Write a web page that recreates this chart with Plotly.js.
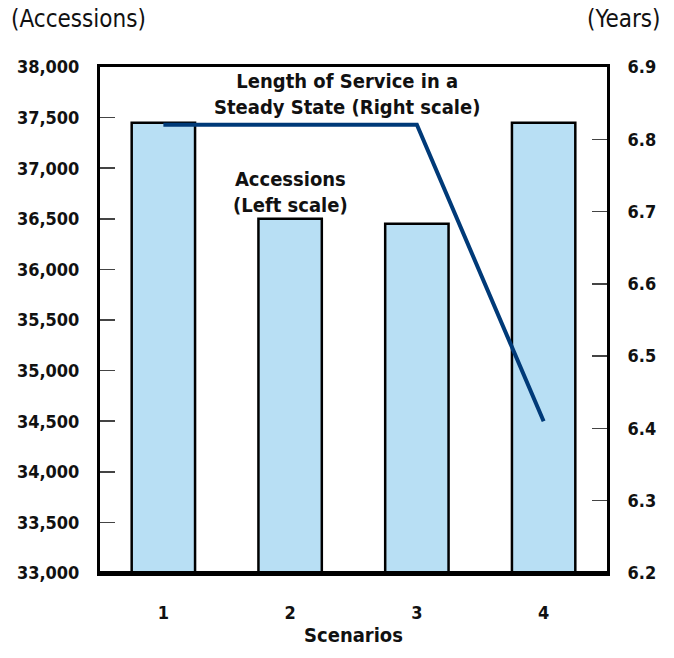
<!DOCTYPE html>
<html>
<head>
<meta charset="utf-8">
<script src="https://cdn.plot.ly/plotly-3.0.1.min.js"></script>
<style>body{margin:0;padding:0;background:#fff}#chart{width:674px;height:658px}</style>
</head>
<body>
<div id="chart"></div>
<script>
const scenarios = [1, 2, 3, 4];
const accessions = [37450, 36500, 36450, 37450];
const lengthOfService = [6.82, 6.82, 6.82, 6.41];
const leftTicks = [33000, 33500, 34000, 34500, 35000, 35500, 36000, 36500, 37000, 37500, 38000];
const rightTicks = [6.2, 6.3, 6.4, 6.5, 6.6, 6.7, 6.8, 6.9];

const FONT = '"DejaVu Sans Condensed", "DejaVu Sans", sans-serif';

const traces = [
  {
    type: 'bar', x: scenarios, y: accessions.map(v => v - 33000), base: 33000,
    width: 0.5,
    marker: {color: '#b8dff4', line: {color: '#000', width: 2.5}},
    hoverinfo: 'skip', yaxis: 'y'
  },
  {
    type: 'scatter', mode: 'lines', x: scenarios, y: lengthOfService,
    line: {color: '#003a78', width: 4}, yaxis: 'y2', hoverinfo: 'skip'
  }
];

const layout = {
  width: 674, height: 658,
  margin: {l: 100, r: 67, t: 67, b: 85},
  paper_bgcolor: '#fff', plot_bgcolor: '#fff',
  showlegend: false,
  font: {family: FONT, color: '#111', size: 18},
  xaxis: {
    range: [0.5, 4.5], tickvals: scenarios, ticktext: scenarios.map(String),
    showgrid: false, zeroline: false, ticks: '', ticklen: 0,
    showline: true, linecolor: '#000', linewidth: 3, mirror: true,
    tickfont: {family: FONT, size: 18, color: '#111', weight: 'bold'},
    ticklabelstandoff: 21,
    title: {text: '<b>Scenarios</b>', font: {family: FONT, size: 20, color: '#111'}, standoff: 7}
  },
  yaxis: {
    range: [33000, 38000], tickvals: leftTicks,
    ticktext: leftTicks.map(v => v.toLocaleString('en-US')),
    showgrid: false, zeroline: false,
    ticks: 'inside', ticklen: 15, tickwidth: 1.5, tickcolor: '#444',
    showline: true, linecolor: '#000', linewidth: 3,
    tickfont: {family: FONT, size: 18, color: '#111', weight: 'bold'},
    ticklabelstandoff: 14
  },
  yaxis2: {
    range: [6.2, 6.9], tickvals: rightTicks, ticktext: rightTicks.map(v => v.toFixed(1)),
    overlaying: 'y', side: 'right',
    showgrid: false, zeroline: false,
    ticks: 'inside', ticklen: 15, tickwidth: 1.5, tickcolor: '#444',
    showline: true, linecolor: '#000', linewidth: 3,
    tickfont: {family: FONT, size: 18, color: '#111', weight: 'bold'},
    ticklabelstandoff: 14
  },
  shapes: [
    {type: 'line', xref: 'paper', yref: 'paper', x0: 0, x1: 1, y0: 0, y1: 0,
     line: {color: '#000', width: 4}}
  ],
  annotations: [
    {text: '(Accessions)', xref: 'paper', yref: 'paper', x: -0.18, y: 1.063, xanchor: 'left', yanchor: 'bottom',
     showarrow: false, font: {family: FONT, size: 24, color: '#111'}},
    {text: '(Years)', xref: 'paper', yref: 'paper', x: 1.11, y: 1.063, xanchor: 'right', yanchor: 'bottom',
     showarrow: false, font: {family: FONT, size: 24, color: '#111'}},
    {text: '<b>Length of Service in a<br>Steady State (Right scale)</b>', xref: 'x', yref: 'paper',
     x: 2.45, y: 1.0, xanchor: 'center', yanchor: 'top', showarrow: false, align: 'center',
     font: {family: FONT, size: 20, color: '#111'}},
    {text: '<b>Accessions<br>(Left scale)</b>', xref: 'x', yref: 'paper',
     x: 2.0, y: 0.807, xanchor: 'center', yanchor: 'top', showarrow: false, align: 'center',
     font: {family: FONT, size: 20, color: '#111'}}
  ]
};

Plotly.newPlot('chart', traces, layout, {displayModeBar: false, staticPlot: true});
</script>
</body>
</html>
